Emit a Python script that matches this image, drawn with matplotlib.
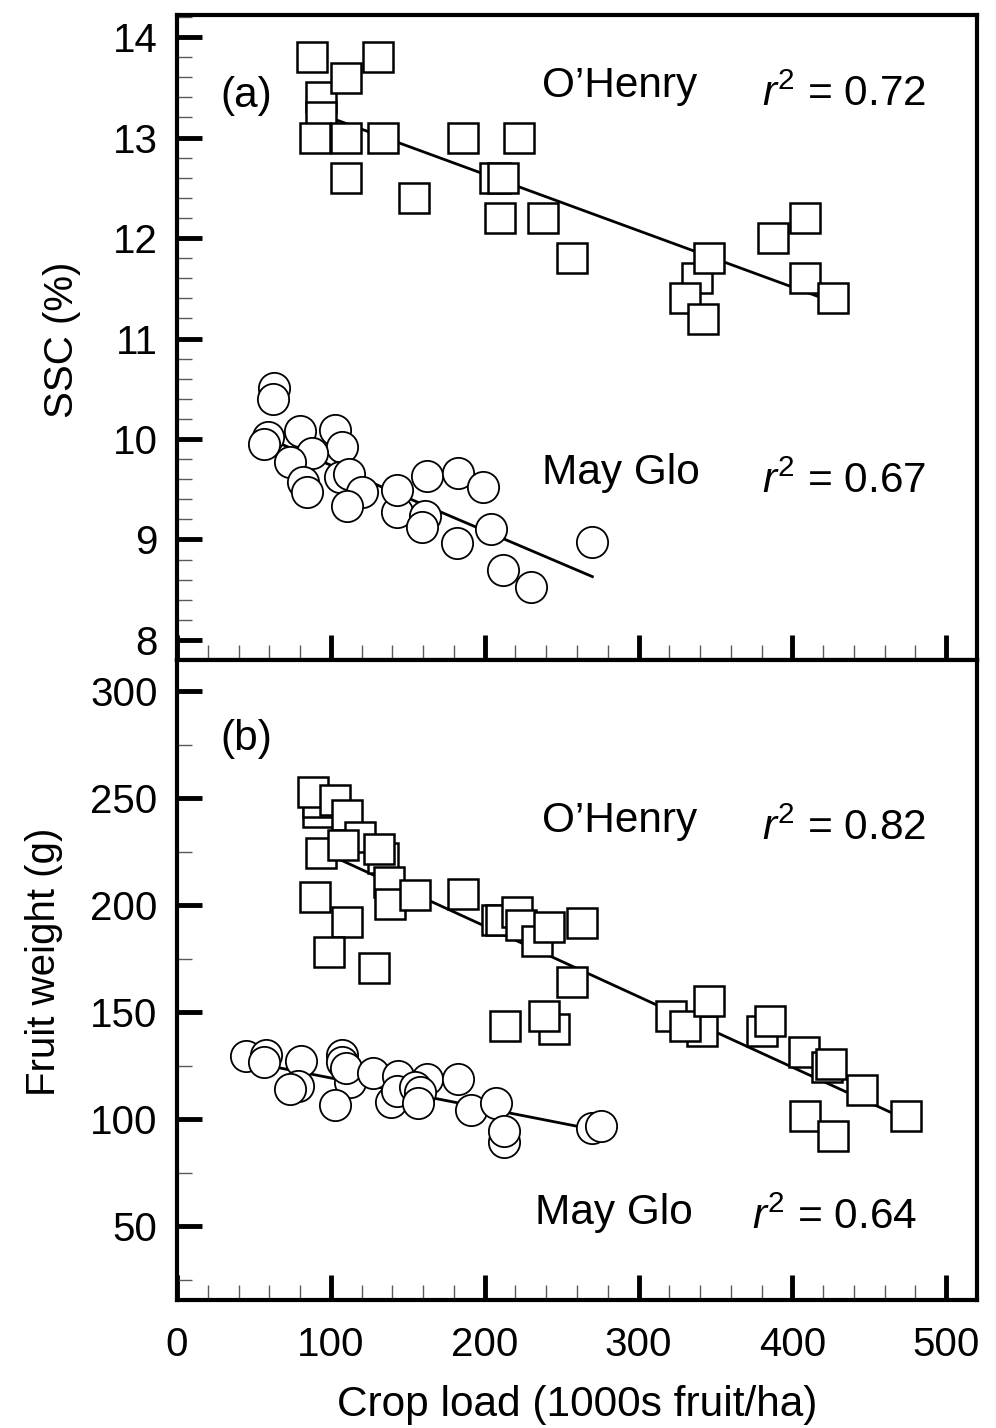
import numpy as np
import matplotlib
matplotlib.use('Agg')
import matplotlib.pyplot as plt
from matplotlib.ticker import MultipleLocator

plt.rcParams['font.family'] = ['Liberation Sans', 'DejaVu Sans']
plt.rcParams['mathtext.fontset'] = 'custom'
plt.rcParams['mathtext.rm'] = 'Liberation Sans'
plt.rcParams['mathtext.it'] = 'Liberation Sans:italic'

# (a) SSC, O'Henry
ssc_oh_x = [88, 130.5, 93.5, 110, 93.5, 89.6, 110, 134, 186, 222, 110, 154, 206.5, 212,
            210, 238, 256.5, 337.7, 330, 342, 346, 387.7, 408.5, 408.5, 426.6]
ssc_oh_y = [13.80, 13.80, 13.40, 13.59, 13.20, 13.0, 13.0, 13.0, 13.0, 13.0, 12.6, 12.4, 12.6, 12.6,
            12.2, 12.2, 11.8, 11.6, 11.4, 11.19, 11.8, 12.0, 12.2, 11.6, 11.4]
# (a) SSC, May Glo
ssc_mg_x = [63, 62.3, 59, 56.5, 80, 102.6, 107, 88, 73.4, 82, 84.5, 106, 111.7, 120, 110.4,
            142.9, 142.9, 162.3, 182.5, 198.7, 161, 159, 181.8, 203.9, 211.7, 229.9, 269.5]
ssc_mg_y = [10.51, 10.40, 10.02, 9.95, 10.08, 10.09, 9.92, 9.86, 9.77, 9.57, 9.47, 9.62, 9.65, 9.47, 9.33,
            9.27, 9.49, 9.63, 9.66, 9.52, 9.23, 9.12, 8.96, 9.10, 8.70, 8.53, 8.97]

# (b) fruit weight, O'Henry
fw_oh_x = [91.5, 91.5, 88.3, 103, 110.4, 119, 93.5, 107.8, 133.8, 131, 137.7, 138.4, 154.5, 185.7,
           89.6, 110.4, 98.7, 127.9, 207.8, 210.4, 220.8, 223.4, 233.8, 241.6, 263, 256.5,
           213, 244.8, 238.3, 321.4, 341, 330, 346, 380, 385.7, 407.8, 422.7, 425.3, 445.5,
           474, 408.5, 426.6]
fw_oh_y = [243.6, 248.2, 252.9, 249, 242, 232, 224.4, 228, 222, 226, 211, 200.7, 204.8, 205.3,
           204, 192.3, 178.2, 170.8, 193.2, 193, 197, 190.9, 183.4, 189.9, 191.7, 164.3,
           143.3, 142.3, 148.4, 148, 141, 143.6, 155, 141, 146, 131.2, 124.6, 126, 113.4,
           101.3, 101.3, 92]
# (b) fruit weight, May Glo
fw_mg_x = [44.8, 57.8, 56.5, 80.5, 78.6, 73.4, 107, 107, 112.3, 109.7, 102.6, 127.3, 143.5,
           139, 142.9, 162.3, 154.5, 157.8, 156.5, 182.5, 190.9, 207.1, 212.3, 212.3, 270, 275.8]
fw_mg_y = [129.3, 130.2, 126.5, 127, 115.3, 113.9, 129.8, 126.5, 117.2, 123.7, 106.4, 121.8, 120,
           107.8, 113, 118.6, 114.8, 112.5, 107.4, 118.6, 104.5, 107.4, 89.2, 94.3, 95.7, 96.7]

# regression line end points
ssc_oh_fit = ([85, 420], [13.28, 11.40])
ssc_mg_fit = ([60, 270], [10.0, 8.63])
fw_oh_fit = ([90, 466], [226.5, 102.5])
fw_mg_fit = ([45, 270], [127, 95.3])

fig = plt.figure(figsize=(9.96, 14.28), dpi=100)
ax1 = fig.add_axes([0.1777, 0.5378, 0.8032, 0.4517])
ax2 = fig.add_axes([0.1777, 0.0896, 0.8032, 0.4482], sharex=ax1)

sq = dict(ls='none', marker='s', ms=21, mfc='white', mec='black', mew=1.8, zorder=3)
ci = dict(ls='none', marker='o', ms=22.5, mfc='white', mec='black', mew=1.3, zorder=3)
ln = dict(color='black', lw=2, zorder=2)

ax1.plot(*ssc_oh_fit, **ln)
ax1.plot(*ssc_mg_fit, **ln)
ax1.plot(ssc_oh_x, ssc_oh_y, **sq)
ax1.plot(ssc_mg_x, ssc_mg_y, **ci)

ax2.plot(*fw_oh_fit, **ln)
ax2.plot(*fw_mg_fit, **ln)
ax2.plot(fw_oh_x, fw_oh_y, **sq)
ax2.plot(fw_mg_x, fw_mg_y, **ci)

fs = 29
fa = 30.5
ax1.text(28, 13.30, '(a)', fontsize=fa, va='baseline')
ax1.text(237, 13.40, 'O\u2019Henry', fontsize=fa, va='baseline')
ax1.text(380, 13.31, r'$\mathit{r}^2$ = 0.72', fontsize=fa, va='baseline')
ax1.text(237, 9.55, 'May Glo', fontsize=fa, va='baseline')
ax1.text(380, 9.46, r'$\mathit{r}^2$ = 0.67', fontsize=fa, va='baseline')

ax2.text(28, 272.5, '(b)', fontsize=fa, va='baseline')
ax2.text(237, 234.2, 'O\u2019Henry', fontsize=fa, va='baseline')
ax2.text(380, 230.5, r'$\mathit{r}^2$ = 0.82', fontsize=fa, va='baseline')
ax2.text(232.5, 51, 'May Glo', fontsize=fa, va='baseline')
ax2.text(374, 48.6, r'$\mathit{r}^2$ = 0.64', fontsize=fa, va='baseline')

ax1.set_xlim(0, 520)
ax1.set_ylim(7.8, 14.22)
ax2.set_ylim(15.5, 314.5)

ax1.xaxis.set_major_locator(MultipleLocator(100))
ax1.xaxis.set_minor_locator(MultipleLocator(20))
ax1.yaxis.set_major_locator(MultipleLocator(1))
ax1.yaxis.set_minor_locator(MultipleLocator(0.2))
ax2.yaxis.set_major_locator(MultipleLocator(50))
ax2.yaxis.set_minor_locator(MultipleLocator(25))
ax2.set_yticks([50, 100, 150, 200, 250, 300])

for ax in (ax1, ax2):
    for s in ax.spines.values():
        s.set_linewidth(3)
    ax.tick_params(which='major', direction='in', length=18, width=3.5,
                   top=False, right=False, labelsize=fs)
    ax.tick_params(which='minor', direction='in', length=11, width=1,
                   top=False, right=False, color='0.35')
    ax.tick_params(axis='y', which='major', pad=14)
    ax.tick_params(axis='x', which='major', pad=19)

ax1.tick_params(axis='x', labelbottom=False)

ax2.set_xlabel('Crop load (1000s fruit/ha)', fontsize=fa, labelpad=15)
fig.text(62 / 996, 1 - 340 / 1428, 'SSC (%)', fontsize=fs, rotation=90,
         ha='center', va='center')
fig.text(44 / 996, 1 - 962 / 1428, 'Fruit weight (g)', fontsize=fs, rotation=90,
         ha='center', va='center')

plt.savefig('out.png', dpi=100)
